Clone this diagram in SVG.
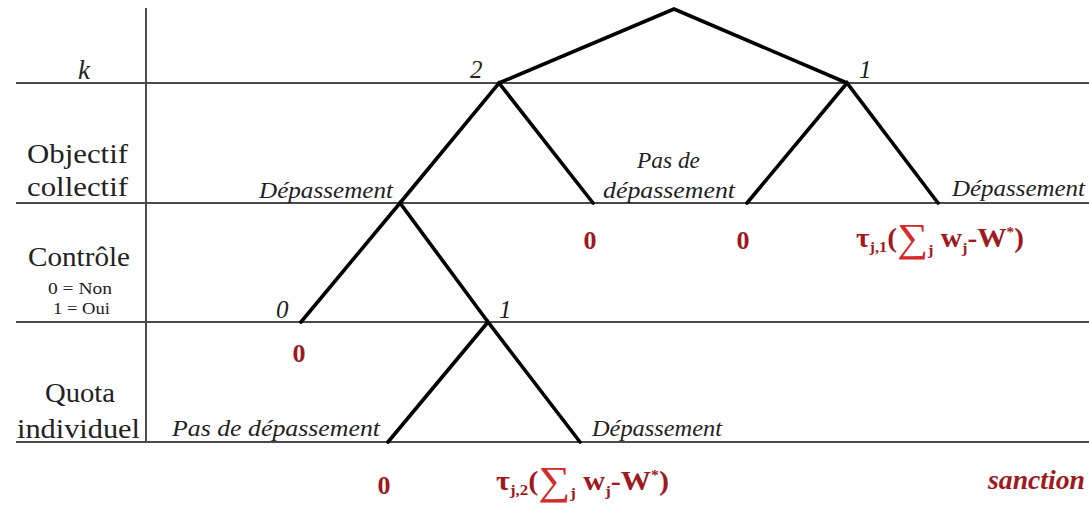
<svg xmlns="http://www.w3.org/2000/svg" width="1089" height="506" viewBox="0 0 1089 506">
<style>
.grid{stroke:#4a4a4a;stroke-width:2;fill:none}
.edge{stroke:#000;stroke-width:3.6;fill:none;stroke-linecap:round}
.lbl{font-family:"Liberation Serif","DejaVu Serif",serif;fill:#222}
.it{font-family:"Liberation Serif","DejaVu Serif",serif;font-style:italic;fill:#222}
.red{font-family:"Liberation Serif","DejaVu Serif",serif;font-weight:bold;fill:#9e1a1e}
.sig{fill:#d42a2a;font-weight:normal}
</style>
<rect width="1089" height="506" fill="#fff"/>
<g id="grid">
<line class="grid" x1="146" y1="8" x2="146" y2="443"/>
<line class="grid" x1="16" y1="83" x2="1089" y2="83"/>
<line class="grid" x1="16" y1="203" x2="1089" y2="203"/>
<line class="grid" x1="16" y1="322" x2="1089" y2="322"/>
<line class="grid" x1="16" y1="442" x2="1089" y2="442"/>
</g>
<g id="row-labels">
<text class="it" x="84" y="79" font-size="27" text-anchor="middle">k</text>
<text class="lbl" x="27" y="163" font-size="28" textLength="101" lengthAdjust="spacingAndGlyphs">Objectif</text>
<text class="lbl" x="27" y="196" font-size="28" textLength="101" lengthAdjust="spacingAndGlyphs">collectif</text>
<text class="lbl" x="28" y="266" font-size="28" textLength="102" lengthAdjust="spacingAndGlyphs">Contrôle</text>
<text class="lbl" x="48" y="294" font-size="16" textLength="64" lengthAdjust="spacingAndGlyphs">0 = Non</text>
<text class="lbl" x="53" y="314" font-size="16" textLength="57" lengthAdjust="spacingAndGlyphs">1 = Oui</text>
<text class="lbl" x="45" y="402" font-size="28" textLength="70" lengthAdjust="spacingAndGlyphs">Quota</text>
<text class="lbl" x="17" y="438" font-size="28" textLength="123" lengthAdjust="spacingAndGlyphs">individuel</text>
</g>
<g id="connectors">
<polyline class="edge" points="499,83 674,9 847,83"/>
<polyline class="edge" points="400,203 499,83 593,203"/>
<polyline class="edge" points="747,203 847,83 938,203"/>
<polyline class="edge" points="301,322 400,203 488,322"/>
<polyline class="edge" points="388,442 488,322 580,442"/>
</g>
<g id="node-root"/>
<g id="node-k2"><text class="it" x="470" y="78" font-size="25">2</text></g>
<g id="node-k1"><text class="it" x="859" y="78" font-size="25">1</text></g>
<g id="node-dep-left"><text class="it" x="259" y="198" font-size="24" textLength="134" lengthAdjust="spacingAndGlyphs">Dépassement</text></g>
<g id="node-pasdep-mid">
<text class="it" x="637" y="168" font-size="24" textLength="63" lengthAdjust="spacingAndGlyphs">Pas de</text>
<text class="it" x="603" y="198" font-size="24" textLength="132" lengthAdjust="spacingAndGlyphs">dépassement</text>
<text class="red" x="590" y="249" font-size="26" text-anchor="middle">0</text>
</g>
<g id="node-pasdep-right"><text class="red" x="743" y="249" font-size="26" text-anchor="middle">0</text></g>
<g id="node-dep-right">
<text class="it" x="952" y="196" font-size="24" textLength="133" lengthAdjust="spacingAndGlyphs">Dépassement</text>
<text class="red" x="856" y="247" font-size="27" textLength="168" lengthAdjust="spacingAndGlyphs">τ<tspan font-size="15" dy="5">j,1</tspan><tspan dy="-5">(</tspan><tspan class="sig" font-size="40" dy="4">∑</tspan><tspan font-size="15" dy="4">j</tspan><tspan dy="-8"> w</tspan><tspan font-size="15" dy="6">j</tspan><tspan dy="-6">-W</tspan><tspan font-size="14" dy="-10">*</tspan><tspan dy="10">)</tspan></text>
</g>
<g id="node-ctrl0">
<text class="it" x="276" y="318" font-size="25">0</text>
<text class="red" x="299" y="362" font-size="26" text-anchor="middle">0</text>
</g>
<g id="node-ctrl1"><text class="it" x="499" y="318" font-size="25">1</text></g>
<g id="node-quota-pas">
<text class="it" x="172" y="436" font-size="24" textLength="208" lengthAdjust="spacingAndGlyphs">Pas de dépassement</text>
<text class="red" x="384" y="494" font-size="26" text-anchor="middle">0</text>
</g>
<g id="node-quota-dep">
<text class="it" x="592" y="436" font-size="24" textLength="130" lengthAdjust="spacingAndGlyphs">Dépassement</text>
<text class="red" x="496" y="490" font-size="27" textLength="173" lengthAdjust="spacingAndGlyphs">τ<tspan font-size="15" dy="5">j,2</tspan><tspan dy="-5">(</tspan><tspan class="sig" font-size="40" dy="4">∑</tspan><tspan font-size="15" dy="4">j</tspan><tspan dy="-8"> w</tspan><tspan font-size="15" dy="6">j</tspan><tspan dy="-6">-W</tspan><tspan font-size="14" dy="-10">*</tspan><tspan dy="10">)</tspan></text>
</g>
<g id="legend"><text class="red" x="988" y="489" font-size="27" font-style="italic" textLength="97" lengthAdjust="spacingAndGlyphs">sanction</text></g>
</svg>
